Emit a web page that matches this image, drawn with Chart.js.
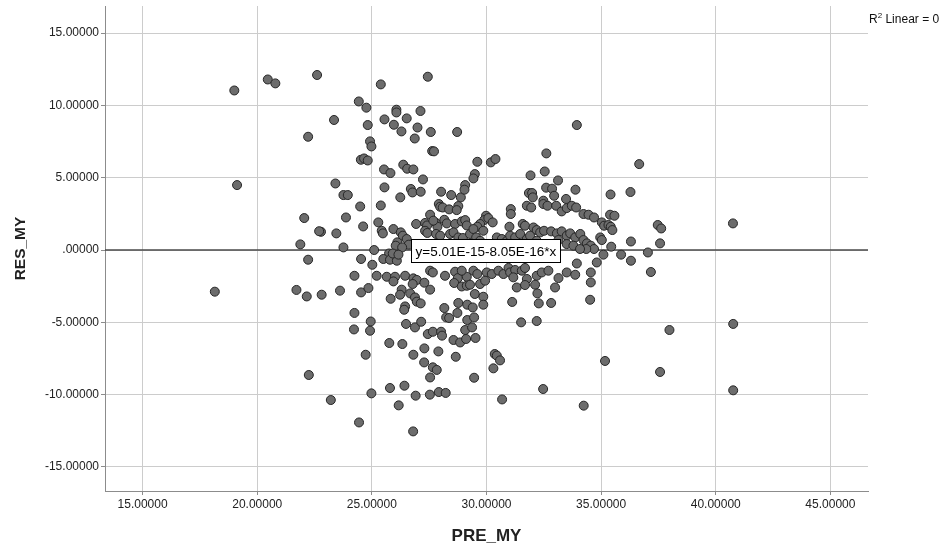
<!DOCTYPE html>
<html>
<head>
<meta charset="utf-8">
<script src="https://cdn.jsdelivr.net/npm/chart.js@4/dist/chart.umd.min.js"></script>
<style>
  html, body { margin: 0; padding: 0; background: #ffffff; }
  #wrap { width: 949px; height: 551px; }
</style>
</head>
<body>
<div id="wrap"><canvas id="c" width="949" height="551"></canvas></div>
<script>
// Predicted values (PRE_MY) and residuals (RES_MY), one entry per case
const preMy = [
  19.00, 20.46, 20.79, 22.61, 22.22, 19.12, 27.44, 25.39, 24.43, 24.76,
  23.35, 26.07, 26.07, 27.12, 25.55, 26.52, 24.82, 25.96, 26.99, 26.29,
  27.57, 28.72, 26.87, 24.92, 24.98, 27.63, 27.71, 24.52, 24.66, 24.82,
  26.37, 26.54, 26.81, 25.53, 25.81, 27.23, 23.41, 25.55, 23.76, 23.95,
  26.24, 26.70, 26.77, 27.13, 28.02, 28.46, 28.88, 29.07, 29.04, 33.94,
  32.61, 29.60, 30.19, 30.39, 29.49, 29.43, 31.92, 32.54, 33.12, 32.60,
  32.86, 31.85, 31.99, 32.02, 32.95, 33.88, 33.47, 35.41, 36.28, 36.66,
  32.48, 22.05, 22.78, 22.70, 21.88, 22.22, 18.15, 21.71, 22.16, 22.81,
  24.49, 25.39, 27.92, 27.98, 28.09, 28.37, 28.77, 28.70, 27.54, 23.87,
  25.28, 24.62, 26.93, 27.32, 27.41, 27.80, 27.86, 27.68, 28.16, 28.27,
  28.63, 28.92, 29.07, 29.14, 25.94, 25.43, 25.48, 23.45, 27.32, 27.42,
  27.80, 27.98, 28.41, 28.56, 28.77, 28.97, 26.26, 26.35, 26.52, 26.61,
  26.11, 26.04, 26.32, 23.76, 25.10, 25.75, 25.50, 25.79, 26.09, 25.91,
  26.16, 24.53, 25.02, 24.24, 25.21, 25.65, 26.01, 26.45, 27.54, 27.66,
  28.19, 28.63, 28.75, 29.14, 28.92, 26.81, 26.96, 25.94, 26.78, 27.29,
  27.54, 28.59, 28.92, 29.14, 23.61, 24.53, 24.85, 26.30, 26.23, 26.67,
  26.88, 26.96, 27.13, 25.82, 26.45, 26.41, 24.24, 28.16, 28.77, 29.16,
  28.73, 28.24, 28.37, 29.16, 24.95, 26.49, 26.88, 27.15, 24.22, 24.92,
  27.44, 27.66, 28.02, 28.06, 28.56, 28.85, 29.11, 29.07, 25.76, 26.33,
  27.29, 27.90, 28.66, 24.73, 26.81, 27.28, 27.66, 27.83, 27.54, 22.25,
  25.79, 26.42, 24.98, 23.21, 26.91, 27.53, 27.92, 28.22, 26.17, 24.44,
  26.80, 31.06, 31.06, 31.76, 31.95, 32.48, 32.66, 33.04, 33.28, 33.50,
  33.72, 33.91, 34.23, 34.45, 34.69, 29.98, 29.90, 30.08, 29.72, 30.27,
  29.60, 29.86, 31.00, 31.58, 31.68, 32.05, 32.19, 32.34, 32.51, 32.82,
  33.07, 33.28, 33.50, 33.65, 33.87, 34.09, 34.23, 34.38, 34.55, 34.69,
  34.35, 33.14, 33.50, 33.79, 34.08, 29.28, 29.43, 29.55, 29.72, 29.36,
  30.45, 30.67, 30.89, 31.03, 31.25, 31.47, 31.76, 31.90, 32.19, 32.41,
  32.70, 32.85, 29.43, 29.60, 30.01, 30.23, 30.52, 30.74, 30.96, 31.03,
  31.25, 31.54, 31.68, 31.17, 31.32, 31.76, 32.19, 32.41, 32.70, 32.99,
  33.14, 33.50, 33.94, 33.87, 34.55, 34.81, 35.39, 35.58, 35.03, 35.13,
  35.32, 35.42, 35.49, 34.96, 35.03, 37.47, 37.62, 40.75, 36.30, 37.57,
  35.44, 35.10, 35.87, 37.04, 36.30, 37.17, 29.28, 29.72, 29.94, 31.68,
  32.12, 34.55, 29.49, 29.86, 29.86, 29.40, 29.46, 29.37, 29.52, 32.22,
  31.12, 32.28, 32.82, 34.52, 31.51, 32.19, 37.98, 40.76, 30.36, 30.45,
  30.59, 30.30, 35.17, 37.57, 29.46, 32.47, 40.76, 30.68, 34.24
];
const resMy = [
  11.03, 11.79, 11.52, 12.10,  7.83,  4.49, 11.98, 11.45, 10.27,  9.84,
   8.99,  9.70,  9.51,  9.61,  9.03,  9.10,  8.64,  8.66,  8.47,  8.20,
   8.16,  8.16,  7.71,  7.51,  7.16,  6.84,  6.82,  6.24,  6.33,  6.19,
   5.90,  5.62,  5.57,  5.57,  5.32,  4.88,  4.60,  4.33,  3.80,  3.80,
   3.64,  4.22,  3.98,  4.03,  4.03,  3.80,  3.64,  4.49,  4.17,  8.64,
   6.68,  6.10,  6.06,  6.29,  5.25,  4.95,  5.16,  5.43,  4.81,  4.31,
   4.24,  3.94,  3.94,  3.64,  3.75,  4.17,  3.53,  3.84,  4.01,  5.94,
   3.41,  2.21,  1.26,  1.30,  0.39, -0.67, -2.88, -2.76, -3.21, -3.09,
   3.01,  3.08,  3.18,  2.99,  2.94,  2.81,  3.04,  2.76,  2.44,  2.25,
   1.91,  1.63,  1.80,  1.87,  1.70,  1.87,  1.61,  2.03,  2.09,  1.84,
   1.80,  1.98,  2.07,  1.70,  1.45,  1.33,  1.15,  1.15,  1.33,  1.18,
   1.11,  0.99,  1.11,  1.22,  0.87,  0.83,  1.22,  0.99,  0.76,  0.37,
   0.53,  0.30,  0.18,  0.18,  0.00, -0.24, -0.62, -0.67, -0.74, -0.24,
  -0.32, -0.62, -1.02, -1.78, -1.78, -1.85, -1.85, -1.78, -1.43, -1.55,
  -1.78, -1.50, -1.94, -1.85, -1.43, -1.96, -2.07, -2.17, -2.35, -2.26,
  -2.74, -2.28, -2.52, -2.47, -2.81, -2.93, -2.63, -2.74, -3.09, -3.00,
  -3.28, -3.57, -3.69, -3.37, -3.90, -4.13, -4.35, -4.01, -3.66, -3.78,
  -4.35, -4.66, -4.70, -4.84, -4.94, -5.11, -5.35, -4.96, -5.49, -5.58,
  -5.81, -5.65, -5.65, -5.92, -6.22, -6.39, -6.15, -5.53, -6.43, -6.50,
  -6.80, -7.01, -7.38, -7.24, -7.24, -7.77, -8.11, -8.29, -8.81, -8.64,
  -9.54, -9.38, -9.91, -10.37, -10.07, -10.00, -9.82, -9.88, -10.74, -11.92,
  -12.54,  2.83,  2.49,  3.06,  2.94,  3.18,  3.06,  3.06,  2.67,  2.90,
   3.06,  2.94,  2.49,  2.44,  2.25,  2.37,  2.07,  2.21,  1.80,  1.91,
   1.61,  1.33,  1.61,  1.80,  1.68,  1.56,  1.38,  1.22,  1.33,  1.29,
   1.15,  1.29,  0.99,  1.15,  0.87,  1.11,  0.69,  0.46,  0.30,  0.07,
   0.07,  0.69,  0.41,  0.30,  0.07,  1.11,  1.45,  0.87,  0.64,  0.18,
   0.87,  0.76,  0.64,  0.99,  0.87,  1.11,  0.76,  0.99,  0.64,  0.41,
   0.30,  0.07, -1.43, -1.66, -1.55, -1.66, -1.43, -1.66, -1.24, -1.55,
  -1.38, -1.43, -1.24, -1.89, -2.59, -2.00, -1.78, -1.55, -1.43, -2.59,
  -1.94, -1.55, -0.93, -1.71, -1.55, -0.86,  2.44,  2.37,  1.91,  1.68,
   1.73,  1.61,  1.38,  0.87,  0.69,  1.73,  1.49,  1.84,  0.59,  0.46,
   0.23, -0.32, -0.32, -0.17, -0.74, -1.52, -2.40, -2.35, -2.12, -2.42,
  -2.40, -2.24, -3.04, -3.23, -3.78, -3.97, -4.66, -5.35, -6.08, -3.00,
  -3.59, -3.69, -3.66, -3.44, -5.00, -4.91, -5.53, -5.11, -7.19, -7.30,
  -7.63, -8.18, -7.67, -8.43, -8.83, -9.61, -9.70, -10.33, -10.76
];

// Axis ticks and ranges
const xTicks = [15, 20, 25, 30, 35, 40, 45];
const yTicks = [15, 10, 5, 0, -5, -10, -15];
const xRange = [13.36, 46.64];
const yRange = [-16.66, 16.87];

// Linear fit reported for the residuals
const fitIntercept = 5.01e-15;
const fitSlope = -8.05e-16;
const fitLabel = 'y=5.01E-15-8.05E-16*x';
const fitLabelAt = 26.70;          // x value where the equation box starts
const r2Parts = ['R', '2', ' Linear = 0'];

const xTitle = 'PRE_MY';
const yTitle = 'RES_MY';

const FONT = '"Liberation Sans", Arial, sans-serif';

// Tick text in the 5-decimal style, zero written as ".00000"
function fmt(v) {
  if (Math.abs(v) < 1e-9) return '.00000';
  return v.toFixed(5);
}

const points = preMy.map((x, i) => ({ x: x, y: resMy[i] }));
const fitLine = xRange.map(x => ({ x: x, y: fitIntercept + fitSlope * x }));

// Equation box on the fit line plus the R² note in the top-right corner
const annotations = {
  id: 'annotations',
  afterDatasetsDraw(chart) {
    const { ctx, scales: { x, y } } = chart;
    ctx.save();
    ctx.font = '13.5px ' + FONT;
    const tw = ctx.measureText(fitLabel).width;
    const bx = Math.round(x.getPixelForValue(fitLabelAt)) + 0.5;
    const by = Math.round(y.getPixelForValue(0)) - 11 + 0.5;
    const bw = Math.round(tw + 8);
    const bh = 23;
    ctx.fillStyle = '#ffffff';
    ctx.fillRect(bx, by, bw, bh);
    ctx.strokeStyle = '#000000';
    ctx.lineWidth = 1;
    ctx.strokeRect(bx, by, bw, bh);
    ctx.fillStyle = '#000000';
    ctx.textBaseline = 'middle';
    ctx.textAlign = 'left';
    ctx.fillText(fitLabel, bx + 4, by + bh / 2 + 1);

    // R² Linear = 0
    const rx = chart.chartArea.right + 1;
    const base = 23;
    ctx.textBaseline = 'alphabetic';
    ctx.fillStyle = '#111111';
    ctx.font = '12px ' + FONT;
    ctx.fillText(r2Parts[0], rx, base);
    let cx = rx + ctx.measureText(r2Parts[0]).width;
    ctx.font = '8px ' + FONT;
    ctx.fillText(r2Parts[1], cx, base - 5);
    cx += ctx.measureText(r2Parts[1]).width;
    ctx.font = '12px ' + FONT;
    ctx.fillText(r2Parts[2], cx, base);
    ctx.restore();
  }
};

new Chart(document.getElementById('c'), {
  data: {
    datasets: [
      {
        type: 'line',
        data: fitLine,
        borderColor: '#4a4a4a',
        borderWidth: 1.5,
        pointRadius: 0,
        order: 2
      },
      {
        type: 'scatter',
        data: points,
        pointRadius: 4.5,
        pointHoverRadius: 4.5,
        backgroundColor: '#6c6c6c',
        borderColor: '#262626',
        borderWidth: 1,
        order: 1
      }
    ]
  },
  options: {
    responsive: false,
    animation: false,
    devicePixelRatio: 1,
    events: [],
    layout: { padding: { left: 0, right: 81, top: 6, bottom: 0 } },
    plugins: { legend: { display: false }, tooltip: { enabled: false } },
    scales: {
      x: {
        type: 'linear',
        min: xRange[0],
        max: xRange[1],
        afterBuildTicks: s => { s.ticks = xTicks.map(v => ({ value: v })); },
        afterFit: s => { s.height = 60; s.paddingLeft = 0; s.paddingRight = 0; },
        ticks: {
          callback: v => fmt(v),
          font: { family: FONT, size: 12 },
          color: '#222222',
          padding: 2,
          maxRotation: 0,
          autoSkip: false
        },
        grid: { color: '#cccccc', lineWidth: 1, tickLength: 4, tickColor: '#8c8c8c' },
        border: { color: '#8c8c8c', width: 1 },
        title: {
          display: true,
          text: xTitle,
          font: { family: FONT, size: 17, weight: 'bold' },
          color: '#222222',
          padding: { top: 0, bottom: 4 }
        }
      },
      y: {
        type: 'linear',
        min: yRange[0],
        max: yRange[1],
        afterBuildTicks: s => { s.ticks = yTicks.map(v => ({ value: v })); },
        afterFit: s => { s.width = 105; s.paddingTop = 0; s.paddingBottom = 0; },
        ticks: {
          callback: v => fmt(v),
          font: { family: FONT, size: 12 },
          color: '#222222',
          padding: 2,
          autoSkip: false
        },
        grid: { color: '#cccccc', lineWidth: 1, tickLength: 4, tickColor: '#8c8c8c' },
        border: { color: '#8c8c8c', width: 1 },
        title: {
          display: true,
          text: yTitle,
          font: { family: FONT, size: 15.5, weight: 'bold' },
          color: '#222222',
          padding: { top: 11, bottom: 0 }
        }
      }
    }
  },
  plugins: [annotations]
});
</script>
</body>
</html>
